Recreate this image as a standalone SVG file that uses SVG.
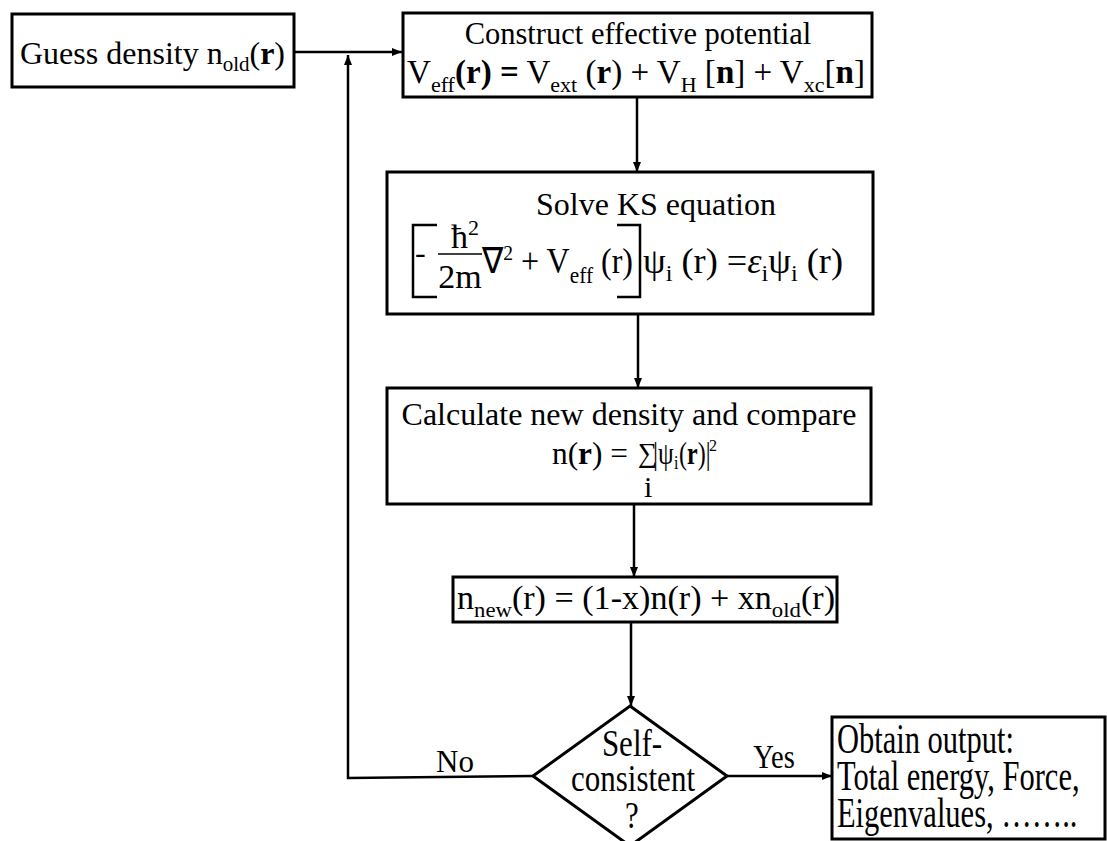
<svg xmlns="http://www.w3.org/2000/svg" width="1107" height="841" viewBox="0 0 1107 841">
<style>
.box{fill:#fff;stroke:#000;stroke-width:3}
.t{font-family:"Liberation Serif","Times New Roman",serif;fill:#000}
.c{fill:none;stroke:#000;stroke-width:2.5}
.b{font-weight:bold}
</style>
<defs>
<marker id="ah" markerUnits="userSpaceOnUse" markerWidth="10" markerHeight="8" refX="10" refY="4" orient="auto">
<path d="M0,0 L10,4 L0,8 z" fill="#000"/>
</marker>
</defs>
<rect width="1107" height="841" fill="#fff"/>
<g id="connectors">
<path class="c" d="M294,52 H402" marker-end="url(#ah)"/>
<path class="c" d="M533,776 L348,778 V55" marker-end="url(#ah)"/>
<path class="c" d="M637,97 V172" marker-end="url(#ah)"/>
<path class="c" d="M638,314 V388" marker-end="url(#ah)"/>
<path class="c" d="M634,504 V577" marker-end="url(#ah)"/>
<path class="c" d="M631,622 V706" marker-end="url(#ah)"/>
<path class="c" d="M727,776 H832" marker-end="url(#ah)"/>
</g>
<g id="guess">
<rect class="box" x="12" y="14" width="282" height="73"/>
<text class="t" x="20" y="64" font-size="32">Guess density n<tspan font-size="21" dy="7">old</tspan><tspan dy="-7">(</tspan><tspan class="b">r</tspan>)</text>
</g>
<g id="construct">
<rect class="box" x="403" y="13" width="469" height="84"/>
<text class="t" x="638" y="44" font-size="30.5" text-anchor="middle">Construct effective potential</text>
<text class="t" x="407" y="83" font-size="33" textLength="458" lengthAdjust="spacingAndGlyphs">V<tspan font-size="22" dy="9">eff</tspan><tspan class="b" dy="-9">(r) =</tspan> V<tspan font-size="22" dy="9">ext</tspan><tspan dy="-9"> (</tspan><tspan class="b">r</tspan>) + V<tspan font-size="22" dy="9">H</tspan><tspan dy="-9"> [</tspan><tspan class="b">n</tspan>] + V<tspan font-size="22" dy="9">xc</tspan><tspan dy="-9">[</tspan><tspan class="b">n</tspan>]</text>
</g>
<g id="solve">
<rect class="box" x="387" y="172" width="486" height="142"/>
<text class="t" x="656" y="215" font-size="32" text-anchor="middle">Solve KS equation</text>
<path d="M437,225 H413 V297 H437 M617,225 H640 V297 H617" fill="none" stroke="#000" stroke-width="2.5"/>
<text class="t" x="415" y="263" font-size="32">-</text>
<text class="t" x="451" y="248" font-size="34">ħ<tspan font-size="22" dy="-13">2</tspan></text>
<path d="M438,254 H482" stroke="#000" stroke-width="1.5"/>
<text class="t" x="460" y="288" font-size="34" text-anchor="middle">2m</text>
<text class="t" x="482" y="273" font-size="36" textLength="151" lengthAdjust="spacingAndGlyphs">∇<tspan font-size="22" dy="-13">2</tspan><tspan dy="13"> + V</tspan><tspan font-size="24" dy="10">eff</tspan><tspan dy="-10"> (r)</tspan></text>
<text class="t" x="643" y="273" font-size="36" textLength="200" lengthAdjust="spacingAndGlyphs">ψ<tspan font-size="24" dy="8">i</tspan><tspan dy="-8"> (r) =</tspan><tspan font-style="italic">ε</tspan><tspan font-size="24" dy="8">i</tspan><tspan dy="-8">ψ</tspan><tspan font-size="24" dy="8">i</tspan><tspan dy="-8"> (r)</tspan></text>
</g>
<g id="calculate">
<rect class="box" x="387" y="388" width="484" height="116"/>
<text class="t" x="629" y="425" font-size="32" text-anchor="middle">Calculate new density and compare</text>
<text class="t" x="552" y="464" font-size="32" textLength="76" lengthAdjust="spacingAndGlyphs">n(<tspan class="b">r</tspan>) =</text>
<text class="t" x="638" y="462" font-size="27">∑</text>
<text class="t" x="644" y="497" font-size="30">i</text>
<text class="t" font-size="25" transform="translate(653,464) scale(1,1.25)">|ψ</text>
<text class="t" font-size="16" transform="translate(674,469) scale(1,1.2)">i</text>
<text class="t" font-size="24" transform="translate(679,464) scale(1,1.3)">(<tspan class="b">r</tspan>)|</text>
<text class="t" font-size="16" x="709" y="451">2</text>
</g>
<g id="mix">
<rect class="box" x="453" y="577" width="384" height="45"/>
<text class="t" x="457" y="609" font-size="33" textLength="378" lengthAdjust="spacingAndGlyphs">n<tspan font-size="22" dy="8">new</tspan><tspan dy="-8">(r) = (1-x)n(r) + xn</tspan><tspan font-size="22" dy="8">old</tspan><tspan dy="-8">(r)</tspan></text>
</g>
<g id="decision">
<polygon class="box" points="630,706 727,776 630,846 533,776"/>
<text class="t" font-size="31" text-anchor="middle" transform="translate(632,756) scale(1,1.2)">Self-</text>
<text class="t" font-size="31" text-anchor="middle" transform="translate(633,791) scale(1,1.2)">consistent</text>
<text class="t" font-size="31" text-anchor="middle" transform="translate(632,828) scale(1,1.2)">?</text>
</g>
<g id="labels">
<text class="t" x="455" y="772" font-size="31" text-anchor="middle">No</text>
<text class="t" font-size="28.5" text-anchor="middle" transform="translate(774,768) scale(1,1.18)">Yes</text>
</g>
<g id="output">
<rect class="box" x="832" y="717" width="273" height="122"/>
<text class="t" font-size="30.5" transform="translate(837,753) scale(1,1.35)">Obtain output:</text>
<text class="t" font-size="30.5" transform="translate(837,790) scale(1,1.35)">Total energy, Force,</text>
<text class="t" font-size="30.5" transform="translate(837,827) scale(1,1.35)">Eigenvalues, ……..</text>
</g>
</svg>
